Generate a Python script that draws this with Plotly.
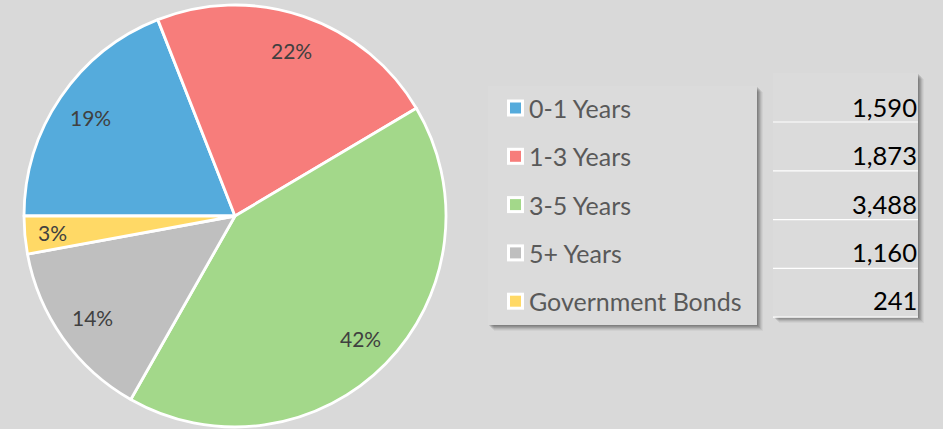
import math
import plotly.graph_objects as go

# ---- data ----
categories = ["0-1 Years", "1-3 Years", "3-5 Years", "5+ Years", "Government Bonds"]
values = [1590, 1873, 3488, 1160, 241]
colors = ["#55ABDC", "#F77D7B", "#A3D88A", "#BFBFBF", "#FFD966"]

W, H = 943, 429
BG = "#D9D9D9"


def px(x):
    return x / W


def py(y):
    return 1 - y / H


# pie geometry (pixels)
PIE_X0, PIE_X1, PIE_Y0, PIE_Y1 = 24, 446, 5, 427
START_ANGLE = 270  # first slice starts at 9 o'clock, clockwise

fig = go.Figure()
fig.add_trace(go.Pie(
    values=values,
    labels=categories,
    sort=False,
    direction="clockwise",
    rotation=START_ANGLE - 360,
    marker=dict(colors=colors, line=dict(color="white", width=2.8)),
    textinfo="none",
    hoverinfo="skip",
    domain=dict(x=[px(PIE_X0), px(PIE_X1)], y=[py(PIE_Y1), py(PIE_Y0)]),
    showlegend=False,
))

shapes = []
annotations = []

# percentage labels placed at the mid-angle of each slice (Excel "best fit" style)
total = sum(values)
cx, cy = (PIE_X0 + PIE_X1) / 2, (PIE_Y0 + PIE_Y1) / 2
R = min(PIE_X1 - PIE_X0, PIE_Y1 - PIE_Y0) / 2
acc = 0.0
for v in values:
    mid = START_ANGLE + (acc + v / 2) / total * 360
    acc += v
    a = math.radians(mid)
    frac = 0.83 if v / total > 0.05 else 0.87
    lx = cx + frac * R * math.sin(a)
    ly = cy - frac * R * math.cos(a)
    annotations.append(dict(xref="paper", yref="paper", x=px(lx), y=py(ly),
                            text=f"{round(v / total * 100)}%", showarrow=False,
                            xanchor="center", yanchor="middle",
                            font=dict(family="Lato", size=21, color="#404040")))


def shadow_box(x0, y0, x1, y1):
    # soft shadow to the right and bottom
    for i, op in enumerate([0.10, 0.10, 0.10, 0.08, 0.06, 0.04]):
        d = i + 1
        shapes.append(dict(type="rect", xref="paper", yref="paper",
                           x0=px(x0 + d), x1=px(x1 + d), y0=py(y1 + d), y1=py(y0 + d),
                           fillcolor="black", opacity=op, line=dict(width=0), layer="below"))
    shapes.append(dict(type="rect", xref="paper", yref="paper",
                       x0=px(x0), x1=px(x1), y0=py(y1), y1=py(y0),
                       fillcolor="#DBDBDB", line=dict(width=0), layer="below"))


# legend box
shadow_box(488, 86, 757, 325)
# value box
shadow_box(773, 73, 918, 317)

row0 = 108
row_h = 48.3
for i, (cat, val, col) in enumerate(zip(categories, values, colors)):
    yc = row0 + i * row_h
    # legend marker: white square with coloured inside
    shapes.append(dict(type="rect", xref="paper", yref="paper",
                       x0=px(507), x1=px(524), y0=py(yc + 8.5), y1=py(yc - 8.5),
                       fillcolor="white", line=dict(width=0)))
    shapes.append(dict(type="rect", xref="paper", yref="paper",
                       x0=px(510), x1=px(521), y0=py(yc + 5.5), y1=py(yc - 5.5),
                       fillcolor=col, line=dict(width=0)))
    annotations.append(dict(xref="paper", yref="paper", x=px(527), y=py(yc),
                            text=cat, showarrow=False, xanchor="left", yanchor="middle",
                            font=dict(family="Lato", size=25, color="#595959")))
    # value cell
    annotations.append(dict(xref="paper", yref="paper", x=px(919), y=py(yc - 1),
                            text=f"{val:,}", showarrow=False, xanchor="right", yanchor="middle",
                            font=dict(family="Lato", size=25.5, color="#000000")))
    shapes.append(dict(type="line", xref="paper", yref="paper",
                       x0=px(773), x1=px(918), y0=py(122 + i * 48.8), y1=py(122 + i * 48.8),
                       line=dict(color="white", width=1.2)))

fig.update_layout(
    width=W, height=H,
    margin=dict(l=0, r=0, t=0, b=0),
    paper_bgcolor=BG, plot_bgcolor=BG,
    shapes=shapes, annotations=annotations,
)

fig.write_html(
    "out.html",
    config={"displayModeBar": False},
    post_script="document.body.style.margin='0';document.body.style.overflow='hidden';",
)
